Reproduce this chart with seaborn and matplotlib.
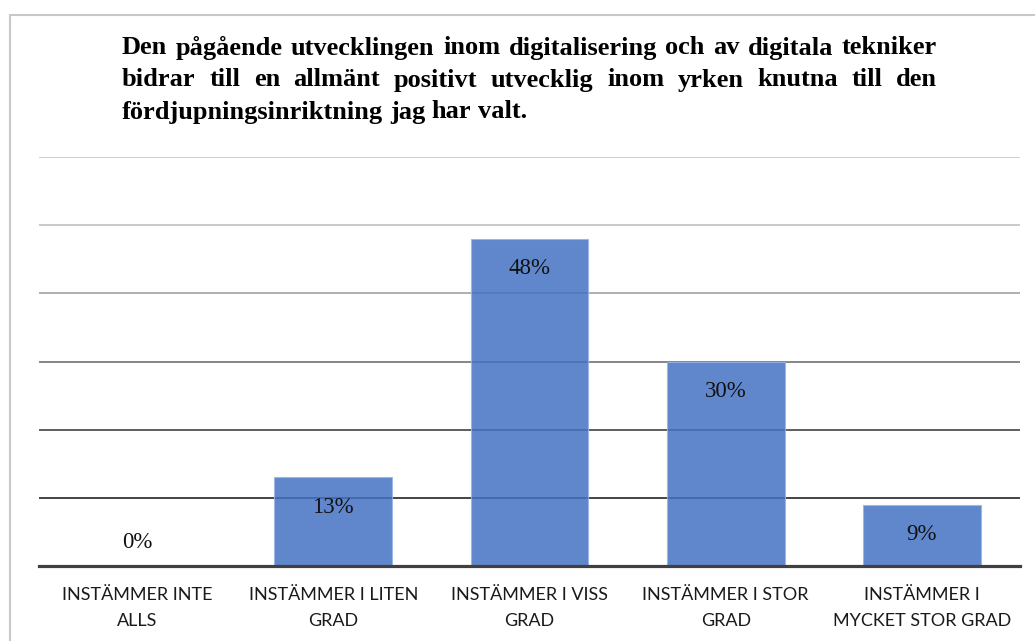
import matplotlib
matplotlib.use("Agg")
import matplotlib.pyplot as plt
import seaborn as sns
from matplotlib.patches import Rectangle

# data
categories = ["INSTÄMMER INTE\nALLS", "INSTÄMMER I LITEN\nGRAD", "INSTÄMMER I VISS\nGRAD",
              "INSTÄMMER I STOR\nGRAD", "INSTÄMMER I\nMYCKET STOR GRAD"]
values = [0.00, 0.13, 0.48, 0.30, 0.09]
labels = ["0%", "13%", "48%", "30%", "9%"]
title_lines = ["Den pågående utvecklingen inom digitalisering och av digitala tekniker",
               "bidrar till en allmänt positivt utvecklig inom yrken knutna till den",
               "fördjupningsinriktning jag har valt."]
y_ticks = [0.1, 0.2, 0.3, 0.4, 0.5, 0.6]
grid_colors = ["#111111", "#333333", "#666666", "#999999", "#bbbbbb", "#c4c4c4"]

sns.set_style("white")
W, H = 1035, 641
fig = plt.figure(figsize=(W / 100, H / 100), dpi=100)
ax = fig.add_axes([39 / W, (H - 566) / H, 981 / W, 409 / H])

sns.barplot(x=categories, y=values, color="#4472C4", saturation=1, alpha=0.85,
            width=0.6, edgecolor="#9ab6e4", linewidth=0.8, ax=ax, zorder=3)

ax.set_ylim(0, 0.6)
ax.set_xlim(-0.5, 4.5)
ax.set_yticks(y_ticks)
ax.set_yticklabels([])
ax.tick_params(axis="y", length=0)
ax.grid(axis="y", linewidth=1.1)
ax.set_axisbelow(True)
for gl, c in zip(ax.get_ygridlines(), grid_colors):
    gl.set_color(c)
for s in ["top", "left", "right"]:
    ax.spines[s].set_visible(False)
ax.spines["bottom"].set_color("#404040")
ax.spines["bottom"].set_linewidth(2.3)
ax.spines["bottom"].set_zorder(4)
ax.tick_params(axis="x", length=0, pad=15)
for t in ax.get_xticklabels():
    t.set_fontfamily("Lato")
    t.set_fontsize(13)
    t.set_linespacing(1.75)
    t.set_color("#1a1a1a")

serif = ["Liberation Serif", "Times New Roman", "DejaVu Serif"]

# value labels inside the bar end
for i, (v, lab) in enumerate(zip(values, labels)):
    off = -30 if v > 0 else 23
    ax.annotate(lab, (i, v), xytext=(0, off), textcoords="offset pixels",
                ha="center", va="center", fontsize=16.5, family=serif,
                color="#111111", zorder=5)

# outer frame
fig.add_artist(Rectangle((10 / W, -0.1), 2, (H - 15) / H + 0.1, transform=fig.transFigure,
                         fill=False, edgecolor="#c8c8c8", linewidth=1.5, clip_on=False))

# justified title
x_left, x_right = 122, 937
ys = [48, 80, 112]
fs = 19
fig.canvas.draw()
renderer = fig.canvas.get_renderer()
space = fig.text(0, 0, "a a", fontsize=fs, fontweight="bold", family=serif)
aa = fig.text(0, 0, "aa", fontsize=fs, fontweight="bold", family=serif)
space_w = space.get_window_extent(renderer).width - aa.get_window_extent(renderer).width
space.remove()
aa.remove()
for k, (line, yc) in enumerate(zip(title_lines, ys)):
    words = line.split(" ")
    texts = [fig.text(0, 1 - yc / H, w, fontsize=fs, fontweight="bold",
                      family=serif, va="center", ha="left", color="black") for w in words]
    widths = [t.get_window_extent(renderer).width for t in texts]
    if k < 2:
        gap = (x_right - x_left - sum(widths)) / (len(words) - 1)
    else:
        gap = space_w
    x = x_left
    for t, w in zip(texts, widths):
        t.set_x(x / W)
        x += w + gap

fig.savefig("out.png", dpi=100)
